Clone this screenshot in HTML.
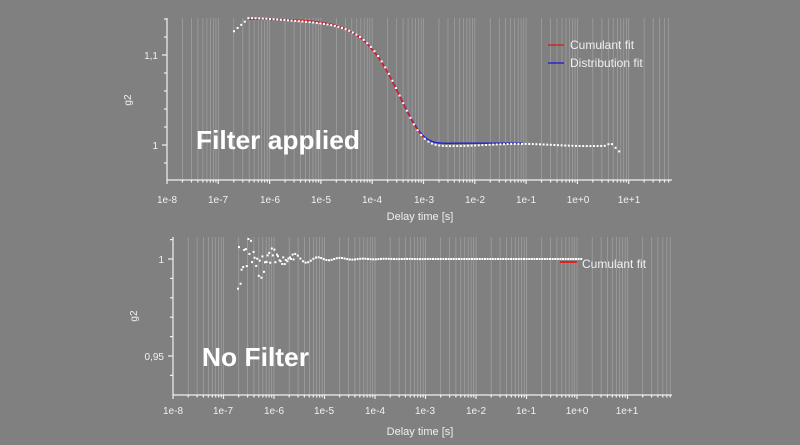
<!DOCTYPE html>
<html><head><meta charset="utf-8"><style>
html,body{margin:0;padding:0;background:#808080;}
svg{display:block;font-family:"Liberation Sans",sans-serif;}
</style></head><body>
<svg id="s" width="800" height="445" xmlns="http://www.w3.org/2000/svg">
<rect width="800" height="445" fill="#808080"/>
<g id="grid"></g>
<g id="data"></g>
<g fill="#f0f0f0" font-size="10">
<text x="167" y="203" text-anchor="middle">1e-8</text>
<text x="218" y="203" text-anchor="middle">1e-7</text>
<text x="270" y="203" text-anchor="middle">1e-6</text>
<text x="321" y="203" text-anchor="middle">1e-5</text>
<text x="372" y="203" text-anchor="middle">1e-4</text>
<text x="424" y="203" text-anchor="middle">1e-3</text>
<text x="475" y="203" text-anchor="middle">1e-2</text>
<text x="526" y="203" text-anchor="middle">1e-1</text>
<text x="578" y="203" text-anchor="middle">1e+0</text>
<text x="629" y="203" text-anchor="middle">1e+1</text>
<text x="158" y="59" text-anchor="end">1,1</text>
<text x="158" y="149" text-anchor="end">1</text>
<text x="420" y="220" text-anchor="middle" font-size="11">Delay time [s]</text>
<text transform="translate(131,100) rotate(-90)" text-anchor="middle">g2</text>
<text x="173" y="414" text-anchor="middle">1e-8</text>
<text x="223" y="414" text-anchor="middle">1e-7</text>
<text x="274" y="414" text-anchor="middle">1e-6</text>
<text x="324" y="414" text-anchor="middle">1e-5</text>
<text x="375" y="414" text-anchor="middle">1e-4</text>
<text x="425" y="414" text-anchor="middle">1e-3</text>
<text x="476" y="414" text-anchor="middle">1e-2</text>
<text x="526" y="414" text-anchor="middle">1e-1</text>
<text x="577" y="414" text-anchor="middle">1e+0</text>
<text x="627" y="414" text-anchor="middle">1e+1</text>
<text x="164" y="263" text-anchor="end">1</text>
<text x="164" y="360" text-anchor="end">0,95</text>
<text x="420" y="435" text-anchor="middle" font-size="11">Delay time [s]</text>
<text transform="translate(137,316) rotate(-90)" text-anchor="middle">g2</text>
<text x="570" y="49" font-size="12">Cumulant fit</text>
<text x="570" y="67" font-size="12">Distribution fit</text>
<text x="582" y="268" font-size="12">Cumulant fit</text>
</g>
<line x1="548" y1="45" x2="564" y2="45" stroke="#e01010" stroke-width="1.2"/>
<line x1="548" y1="63" x2="564" y2="63" stroke="#1010e0" stroke-width="1.2"/>
<line x1="560" y1="262" x2="577" y2="262" stroke="#ff0000" stroke-width="1.5"/>
<g fill="#ffffff" font-weight="bold" font-size="26">
<text x="196" y="149" textLength="164" lengthAdjust="spacingAndGlyphs">Filter applied</text>
<text x="202" y="366" textLength="107" lengthAdjust="spacingAndGlyphs">No Filter</text>
</g>
<g id="axes" stroke="#f0f0f0" stroke-width="1.2" fill="none"></g>
</svg>
<script>
const NS="http://www.w3.org/2000/svg";
function el(p,t,a){const e=document.createElementNS(NS,t);for(const k in a)e.setAttribute(k,a[k]);document.getElementById(p).appendChild(e);return e;}
const charts=[
 {x0:167,dec:51.3,top:18,bot:180,ax:167,yf:g=>145-(g-1)*900,yt:[[1.1,1],[1,1],[1.14,0],[1.12,0],[1.08,0],[1.06,0],[1.04,0],[1.02,0],[0.98,0],[0.96,0]]},
 {x0:173,dec:50.5,top:237,bot:395,ax:173,yf:g=>259-(g-1)*1940,yt:[[1,1],[0.95,1],[1.01,0],[0.99,0],[0.98,0],[0.97,0],[0.96,0],[0.94,0]]}
];
charts.forEach(c=>{
 const X=l=>c.x0+c.dec*(l+8);
 for(let d=-8;d<=1;d++){for(let m=1;m<=9;m++){const x=X(d+Math.log10(m));if(x>672)continue;
   if(m>1||d>-8) el("grid","line",{x1:x,y1:c.top,x2:x,y2:c.bot,stroke:"#a2a2a2","stroke-width":0.7});
   el("axes","line",{x1:x,y1:c.bot,x2:x,y2:c.bot+(m==1?4:2.5)});}}
 el("axes","line",{x1:c.ax,y1:c.top,x2:c.ax,y2:c.bot});
 el("axes","line",{x1:c.ax,y1:c.bot,x2:672,y2:c.bot});
 c.yt.forEach(([g,M])=>{const y=c.yf(g);if(y<c.top-1||y>c.bot)return;el("axes","line",{x1:c.ax-(M?5:3),y1:y,x2:c.ax,y2:y});});
 c.X=X;
});
let c=charts[0];
const G=t=>1+0.14*Math.exp(-t/3.6e-4);
function pathFrom(f,l0,l1,col,yf,X){let d="";for(let l=l0;l<=l1;l+=0.02){d+=(d?"L":"M")+X(l).toFixed(1)+","+yf(f(Math.pow(10,l))).toFixed(1);}el("data","path",{d:d,stroke:col,"stroke-width":1.4,fill:"none"});}
pathFrom(t=>G(t)+0.002*(1-Math.exp(-t/1e-3)),-6.4,-1.05,"#1c1ce0",c.yf,c.X);
pathFrom(t=>G(t),-6.4,-3,"#e01a1a",c.yf,c.X);
for(let x=234;x<=622;x+=3.6){const l=(x-c.x0)/c.dec-8;const t=Math.pow(10,l);let g=G(t);
 if(l<-6.45)g=1.125+0.015*Math.min(1,(l+6.7)/0.3);
 if(l>0.55)g+=0.003*Math.min(1,(l-0.55)/0.1);
 if(l>0.65)g-=(l-0.65)*0.06;
 g+=Math.sin(x*1.7)*0.0012;
 el("data","rect",{x:x-1,y:c.yf(g)-1,width:2,height:2,fill:"#fff"});}
c=charts[1];
for(let x=238;x<=583;x+=2.6){const l=(x-c.x0)/c.dec-8;let g=1;
 const a=Math.exp(-(l+6.7)*1.8);
 g+=-0.018*a*Math.cos((l+6.7)*14)+0.004*Math.sin(x*2.3)*a;
 g=Math.min(g,1.011);
 el("data","rect",{x:x-1,y:c.yf(g)-1,width:2,height:2,fill:"#fff"});
 if(l<-5.6){const g2=1+0.006*a*Math.sin(x*1.3);el("data","rect",{x:x,y:c.yf(g2)-1,width:2,height:2,fill:"#fff"});}}
</script>
</body></html>
